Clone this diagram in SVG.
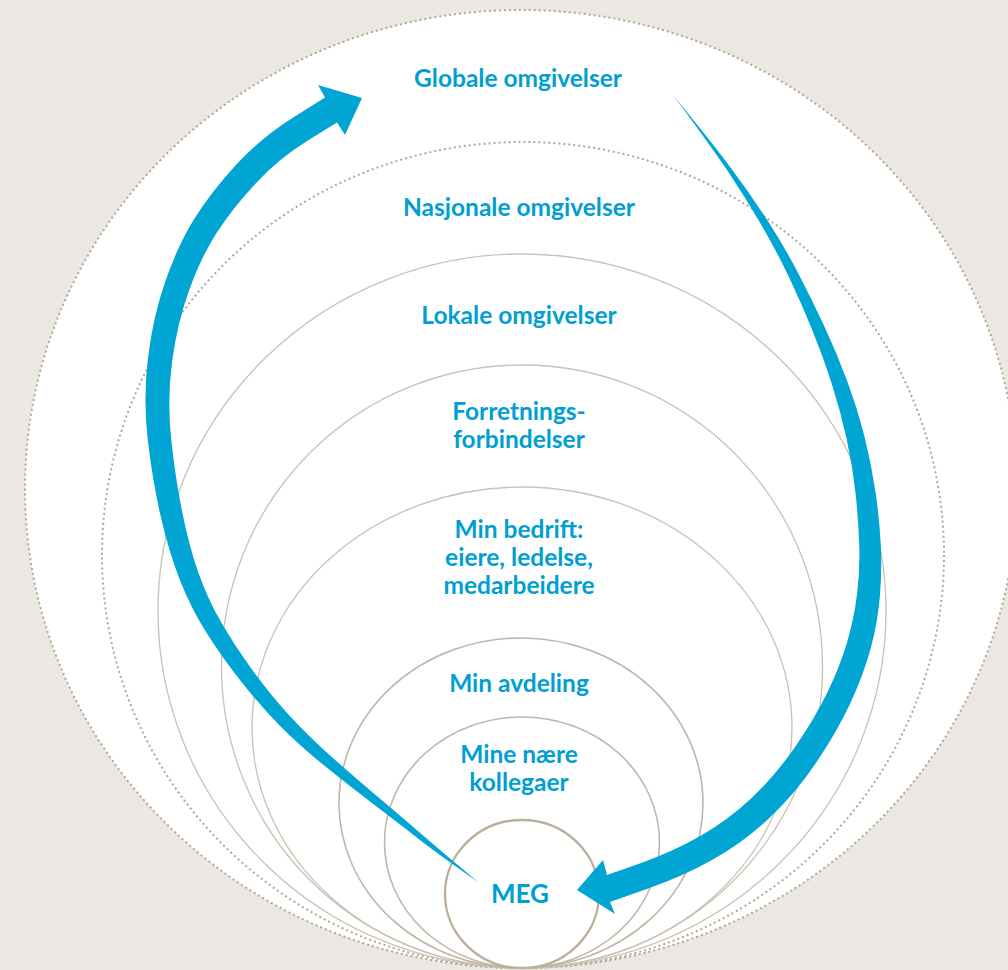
<svg xmlns="http://www.w3.org/2000/svg" width="1008" height="970" viewBox="0 0 1008 970">
<style>
.bg{fill:#ebe8e3}
.dot{fill:none;stroke:#b4a693;stroke-width:2;stroke-dasharray:2 3}
.ring{fill:none;stroke:#cbc1b4;stroke-width:1.3}
.ring1{fill:none;stroke:#c1b5a6;stroke-width:1.6}
.ring2{fill:none;stroke:#bcae9d;stroke-width:2.4}
.lbl{font-family:Lato,'DejaVu Sans Condensed',sans-serif;font-weight:bold;font-size:24.5px;fill:#009fd1;text-anchor:middle}
.arrow{fill:#00a5d4}
</style>
<rect class="bg" x="0" y="0" width="1008" height="970"/>
<g id="node-globale">
<ellipse class="dot" cx="521" cy="489" rx="496" ry="479" style="fill:#ffffff"/>
<text class="lbl" x="518" y="87">Globale omgivelser</text>
</g>
<g id="node-nasjonale">
<ellipse class="dot" cx="523" cy="555" rx="421" ry="413"/>
<text class="lbl" x="519" y="216">Nasjonale omgivelser</text>
</g>
<g id="node-lokale">
<ellipse class="ring" cx="522" cy="611" rx="364" ry="357"/>
<text class="lbl" x="519" y="324">Lokale omgivelser</text>
</g>
<g id="node-forretning">
<ellipse class="ring" cx="522" cy="666.5" rx="300.5" ry="301.5"/>
<text class="lbl" x="519" y="420">Forretnings-</text>
<text class="lbl" x="519" y="448">forbindelser</text>
</g>
<g id="node-bedrift">
<ellipse class="ring" cx="522" cy="727.5" rx="270" ry="240.5"/>
<text class="lbl" x="519" y="538">Min bedrift:</text>
<text class="lbl" x="519" y="566">eiere, ledelse,</text>
<text class="lbl" x="519" y="594">medarbeidere</text>
</g>
<g id="node-avdeling">
<ellipse class="ring1" cx="521" cy="803" rx="182" ry="165"/>
<text class="lbl" x="519" y="692">Min avdeling</text>
</g>
<g id="node-kollegaer">
<ellipse class="ring1" cx="522" cy="842.5" rx="137.5" ry="125.5"/>
<text class="lbl" x="519" y="763">Mine nære</text>
<text class="lbl" x="519" y="791">kollegaer</text>
</g>
<g id="node-meg">
<ellipse class="ring2" cx="522" cy="894" rx="77" ry="74"/>
<text class="lbl" x="520" y="903" style="font-size:26px">MEG</text>
</g>
<g id="connectors">
<path class="arrow" d="M478,882 Q441.2,851.4 421.7,834.35 Q402.2,817.3 377.7,796.7 Q353.2,776.1 330.35,755.7 Q307.5,735.3 289.1,715.25 Q270.7,695.2 252.85,670.7 Q235,646.2 221.3,622.55 Q207.6,598.9 198.35,572.5 Q189.1,546.1 182.25,512.15 Q175.4,478.2 171.2,439.15 Q167,400.1 172.1,361.45 Q177.2,322.8 189.5,289.2 Q201.8,255.6 217.2,231.95 Q232.6,208.3 255.65,183.45 Q278.7,158.6 307.85,140.6 L337,122.6 L345,135 L362,98 L318,85 L325,97.4 L293.15,117.4 Q261.3,137.4 236.35,164.55 Q211.4,191.7 194.8,218.05 Q178.2,244.4 165.5,280.8 Q152.8,317.2 147.9,358.55 Q143,399.9 147.85,440.85 Q152.7,481.8 160.8,516.85 Q168.9,551.9 179.65,579.5 Q190.4,607.1 205.7,631.45 Q221,655.8 240.15,680.3 Q259.3,704.8 278.9,724.75 Q298.5,744.7 322.65,764.3 Q346.8,783.9 372.3,803.3 Q397.8,822.7 418.3,838.65 Q438.8,854.6 478,882 Z"/>
<path class="arrow" d="M673,95 Q710.8,145.9 728.15,171.8 Q745.5,197.7 760.8,223.95 Q776.1,250.2 788.55,276.25 Q801,302.3 812.25,329.95 Q823.5,357.6 832.15,385 Q840.8,412.4 846.75,439.55 Q852.7,466.7 855.6,493.8 Q858.5,520.9 859.25,545.3 Q860,569.7 857.1,593.75 Q854.2,617.8 847.25,641.7 Q840.3,665.6 827.55,692.05 Q814.8,718.5 794.75,747.4 Q774.7,776.3 751.35,798.2 Q728,820.1 700.25,835.9 Q672.5,851.7 639.75,863.4 L607,875.1 L603,860 L577,890 L615,914 L610,901.9 L646.75,889.1 Q683.5,876.3 713.75,859.1 Q744,841.9 769.65,817.8 Q795.3,793.7 816.25,762.6 Q837.2,731.5 850.45,703 Q863.7,674.5 870.75,648.35 Q877.8,622.2 879.9,596.25 Q882,570.3 880.75,544.7 Q879.5,519.1 875.4,491.2 Q871.3,463.3 864.25,435.45 Q857.2,407.6 846.85,380.05 Q836.5,352.5 823.75,325.1 Q811,297.7 797.45,271.75 Q783.9,245.8 767.2,220.05 Q750.5,194.3 731.85,169.2 Q713.2,144.1 673,95 Z"/>
</g>
</svg>
